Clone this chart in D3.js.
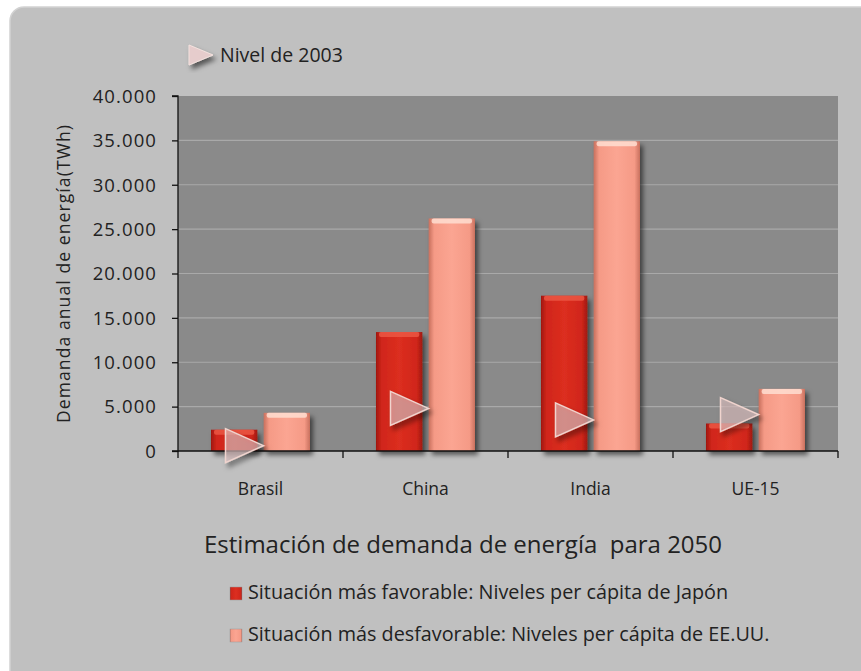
<!DOCTYPE html>
<html>
<head>
<meta charset="utf-8">
<script src="https://cdn.jsdelivr.net/npm/d3@7"></script>
<style>
  body { margin: 0; background: #fff; }
  svg { display: block; font-family: "Open Sans", "Noto Sans", sans-serif; }
  text { white-space: pre; }
</style>
</head>
<body>
<div id="chart"></div>
<script>
// data
const categories = ["Brasil", "China", "India", "UE-15"];
const favorable = [2400, 13400, 17500, 3100];      // Japón per cápita
const desfavorable = [4300, 26200, 34900, 7000];   // EE.UU. per cápita
const nivel2003 = [600, 4800, 3500, 4100];
const yTicks = [0, 5000, 10000, 15000, 20000, 25000, 30000, 35000, 40000];

const width = 861, height = 671;
const margin = { left: 178, right: 23, top: 96, bottom: 220 };

const svg = d3.select("#chart").append("svg")
    .attr("width", width)
    .attr("height", height);

const defs = svg.append("defs");

function barGradient(id, dark, mid, light) {
    const g = defs.append("linearGradient").attr("id", id)
        .attr("x1", "0%").attr("x2", "100%").attr("y1", "0%").attr("y2", "0%");
    g.append("stop").attr("offset", "0%").attr("stop-color", dark);
    g.append("stop").attr("offset", "12%").attr("stop-color", mid);
    g.append("stop").attr("offset", "50%").attr("stop-color", light);
    g.append("stop").attr("offset", "88%").attr("stop-color", mid);
    g.append("stop").attr("offset", "100%").attr("stop-color", dark);
}
barGradient("gRed", "#a01810", "#d0261a", "#dc2e20");
barGradient("gPink", "#c8705e", "#f59a86", "#fba592");

const shadow = defs.append("filter").attr("id", "shadow")
    .attr("x", "-30%").attr("y", "-30%").attr("width", "170%").attr("height", "170%");
shadow.append("feDropShadow").attr("dx", 3).attr("dy", 4).attr("stdDeviation", 2.5)
    .attr("flood-color", "#000").attr("flood-opacity", 0.55);

// panel
svg.append("rect")
    .attr("x", 10).attr("y", 7)
    .attr("width", width + 20).attr("height", height + 20)
    .attr("rx", 14)
    .attr("fill", "#c0c0c0")
    .attr("stroke", "#d2d2d2").attr("stroke-width", 1.5);

const plotW = width - margin.left - margin.right;
const plotH = height - margin.top - margin.bottom;

const x = d3.scaleBand().domain(categories).range([0, plotW]).paddingInner(0).paddingOuter(0);
const inner = d3.scaleBand().domain(["fav", "desf"]).range([33, x.bandwidth() - 33]).paddingInner(0.12);
const y = d3.scaleLinear().domain([0, 40000]).range([plotH, 0]);

const g = svg.append("g").attr("transform", `translate(${margin.left},${margin.top})`);

g.append("rect").attr("width", plotW).attr("height", plotH).attr("fill", "#8a8a8a");

g.selectAll(".grid").data(yTicks.slice(1, -1)).join("line")
    .attr("x1", 0).attr("x2", plotW)
    .attr("y1", d => y(d)).attr("y2", d => y(d))
    .attr("stroke", "#a9a9a9").attr("stroke-width", 1.2);

// bars
const rows = categories.map((c, i) => ({ c, fav: favorable[i], desf: desfavorable[i], lvl: nivel2003[i] }));

function drawBars(key, grad, topColor) {
    const bars = g.selectAll(".bar-" + key).data(rows).join("g");
    bars.append("rect")
        .attr("x", d => x(d.c) + inner(key))
        .attr("y", d => y(d[key]))
        .attr("width", inner.bandwidth())
        .attr("height", d => plotH - y(d[key]))
        .attr("fill", `url(#${grad})`)
        .attr("filter", "url(#shadow)");
    bars.append("rect")
        .attr("x", d => x(d.c) + inner(key) + 3)
        .attr("y", d => y(d[key]))
        .attr("width", inner.bandwidth() - 6)
        .attr("height", 5)
        .attr("rx", 2)
        .attr("fill", topColor)
        .attr("opacity", 0.8);
}
drawBars("fav", "gRed", "#ec5a46");
drawBars("desf", "gPink", "#ffe2d6");

// axes
const yAxis = d3.axisLeft(y).tickValues(yTicks).tickSize(6)
    .tickFormat(d => d === 0 ? "0" : d3.format(",")(d).replace(/,/g, "."));
const ya = g.append("g").call(yAxis).attr("font-family", null);
ya.select(".domain").attr("stroke", "#111").attr("stroke-width", 1.3).attr("d", `M-6,0H0V${plotH}H-6`);
ya.selectAll(".tick line").attr("stroke", "#111").attr("stroke-width", 1.3);
ya.selectAll(".tick text").attr("x", -21).attr("font-size", 18.5).attr("fill", "#222")
    .attr("letter-spacing", 1.1).attr("dy", "0.34em");

const xa = g.append("g").attr("transform", `translate(0,${plotH})`)
    .call(d3.axisBottom(x).tickSize(0)).attr("font-family", null);
xa.select(".domain").remove();
xa.append("path").attr("d", `M0,0H${plotW}`).attr("stroke", "#111").attr("stroke-width", 1.5);
xa.selectAll(".sep").data(d3.range(categories.length + 1)).join("line")
    .attr("x1", i => i * x.step()).attr("x2", i => i * x.step())
    .attr("y1", 0).attr("y2", 7)
    .attr("stroke", "#111").attr("stroke-width", 1.3);
xa.selectAll(".tick text").attr("font-size", 17.5).attr("fill", "#222")
    .attr("y", 44).attr("dy", null);

// nivel 2003 markers
function triangle(cx, cy) {
    return `M${cx - 18},${cy - 17}L${cx + 20},${cy}L${cx - 18},${cy + 17}Z`;
}
g.selectAll(".lvl").data(rows).join("path")
    .attr("d", d => triangle(x(d.c) + x.bandwidth() / 2 - 17, y(d.lvl)))
    .attr("fill", "rgba(226,196,196,0.58)")
    .attr("stroke", "#f0d4ce").attr("stroke-width", 1.5)
    .attr("filter", "url(#shadow)");

// y title
svg.append("text")
    .attr("transform", `translate(70,${margin.top + plotH / 2}) rotate(-90)`)
    .attr("text-anchor", "middle")
    .attr("font-size", 17.5).attr("fill", "#222")
    .attr("letter-spacing", 1.1)
    .text("Demanda anual de energía(TWh)");

// top legend
svg.append("path")
    .attr("d", "M189,45L213,55L189,65Z")
    .attr("fill", "#e6cccc").attr("stroke", "#f4e2de").attr("stroke-width", 1)
    .attr("filter", "url(#shadow)");
svg.append("text").attr("x", 220).attr("y", 62)
    .attr("font-size", 19.5).attr("fill", "#222").text("Nivel de 2003");

// title
svg.append("text").attr("x", 204).attr("y", 553)
    .attr("font-size", 24).attr("fill", "#222")
    .text("Estimación de demanda de energía  para 2050");

// bottom legend
const legend = [
    { label: "Situación más favorable: Niveles per cápita de Japón", fill: "url(#gRed)", y: 599 },
    { label: "Situación más desfavorable: Niveles per cápita de EE.UU.", fill: "url(#gPink)", y: 641 }
];
const lg = svg.selectAll(".leg").data(legend).join("g")
    .attr("transform", d => `translate(230,${d.y})`);
lg.append("rect").attr("x", 0).attr("y", -12).attr("width", 12).attr("height", 13)
    .attr("fill", d => d.fill).attr("stroke", "#999").attr("stroke-width", 0.5);
lg.append("text").attr("x", 18).attr("y", 0)
    .attr("font-size", 19.8).attr("fill", "#222")
    .text(d => d.label);
</script>
</body>
</html>
